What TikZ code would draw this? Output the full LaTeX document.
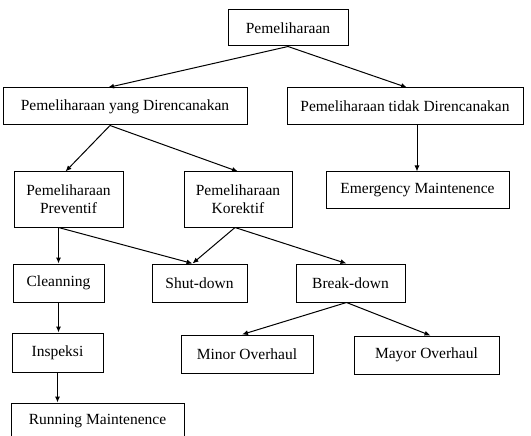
\documentclass[tikz,border=0pt]{standalone}
\usepackage{fontspec}
\setmainfont{Liberation Serif}
\usetikzlibrary{arrows.meta}

\begin{document}
\begin{tikzpicture}[x=1pt,y=-1pt,
        kotak/.style={draw, line width=1pt, align=center, inner sep=0pt,
            font=\fontsize{15.5}{18}\selectfont},
        panah/.style={draw, line width=1pt, -{Latex[length=6pt,width=5pt]}}]
        \useasboundingbox (0,0) rectangle (531,436);
        \clip (0,0) rectangle (531,436);
        % level 0 and 1
        \node[kotak, minimum width=120pt, minimum height=36pt] (pem) at (288,28) {Pemeliharaan};
        \node[kotak, minimum width=244pt, minimum height=37pt] (pyd) at (125,106.5) {Pemeliharaan yang Direncanakan};
        \node[kotak, minimum width=236pt, minimum height=37pt] (ptd) at (405,106.5) {Pemeliharaan tidak Direncanakan};
        % level 2
        \node[kotak, minimum width=109pt, minimum height=55pt] (prev) at (68.5,199.5) {Pemeliharaan\\Preventif};
        \node[kotak, minimum width=108pt, minimum height=55pt] (kor) at (238,199.5) {Pemeliharaan\\Korektif};
        \node[kotak, minimum width=183pt, minimum height=36pt] (emg) at (417.5,190) {Emergency Maintenence};
        % level 3
        \node[kotak, minimum width=91pt, minimum height=38pt] (clean) at (58.5,283) {Cleanning};
        \node[kotak, minimum width=95pt, minimum height=38pt] (shut) at (199.5,283) {Shut-down};
        \node[kotak, minimum width=109pt, minimum height=38pt] (brk) at (350.5,283) {Break-down};
        % level 4 and 5
        \node[kotak, minimum width=91pt, minimum height=39pt] (insp) at (57.5,352.5) {Inspeksi};
        \node[kotak, minimum width=132pt, minimum height=38pt] (minor) at (247,354) {Minor Overhaul};
        \node[kotak, minimum width=145pt, minimum height=38pt] (mayor) at (426.5,355) {Mayor Overhaul};
        \node[kotak, minimum width=173pt, minimum height=37pt] (run) at (97.5,421.5) {Running Maintenence};
        % arrows
        \draw[panah] (pem.south) -- ([xshift=-17pt]pyd.north);
        \draw[panah] (pem.south) -- ([xshift=2pt]ptd.north);
        \draw[panah] ([xshift=-15pt]pyd.south) -- ([xshift=-3pt]prev.north);
        \draw[panah] ([xshift=-15pt]pyd.south) -- (kor.north);
        \draw[panah] ([xshift=12pt]ptd.south) -- ([xshift=-0.5pt]emg.north);
        \draw[panah] ([xshift=-10pt]prev.south) -- (clean.north);
        \draw[panah] ([xshift=-10pt]prev.south) -- ([xshift=-7pt]shut.north);
        \draw[panah] ([xshift=-3pt]kor.south) -- ([xshift=-7pt]shut.north);
        \draw[panah] ([xshift=-3pt]kor.south) -- ([xshift=-4pt]brk.north);
        \draw[panah] (clean.south) -- ([xshift=1pt]insp.north);
        \draw[panah] ([xshift=-4pt]brk.south) -- ([xshift=-5pt]minor.north);
        \draw[panah] ([xshift=-4pt]brk.south) -- ([xshift=4pt]mayor.north);
        \draw[panah] (insp.south) -- ([xshift=-40pt]run.north);
\end{tikzpicture}
\end{document}
